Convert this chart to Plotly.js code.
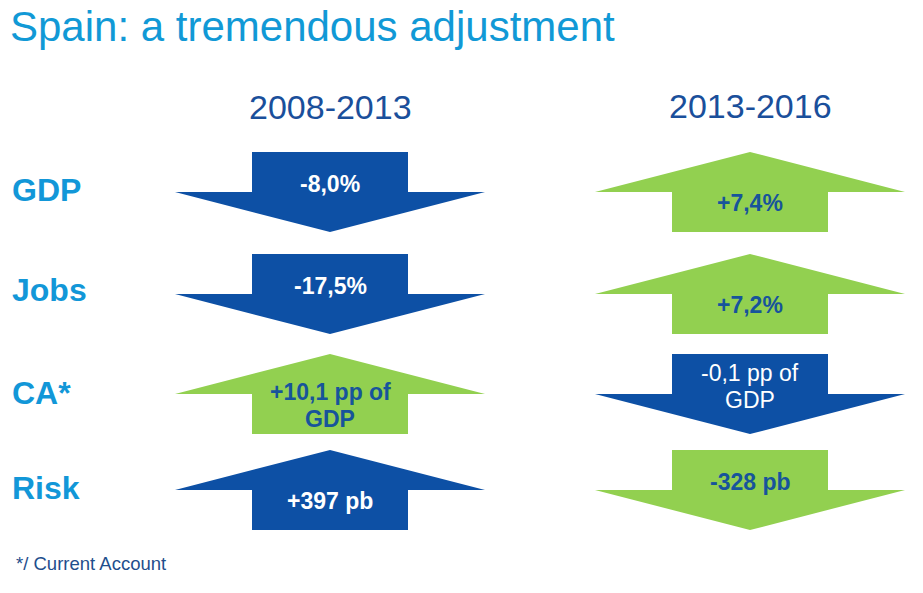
<!DOCTYPE html>
<html><head><meta charset="utf-8">
<script src="https://cdn.plot.ly/plotly-3.0.1.min.js"></script>
<style>html,body{margin:0;padding:0;background:#fff}#chart{width:923px;height:593px}</style>
</head><body><div id="chart"></div>
<script>
// ---- data ----
const chartTitle = "Spain: a tremendous adjustment";
const periods = ["2008-2013", "2013-2016"];
const indicators = ["GDP", "Jobs", "CA*", "Risk"];
const changes2008 = ["-8,0%", "-17,5%", "+10,1 pp of<br>GDP", "+397 pb"];
const changes2013 = ["+7,4%", "+7,2%", "-0,1 pp of<br>GDP", "-328 pb"];
const direction2008 = [-1, -1, 1, 1];   // +1 up, -1 down
const direction2013 = [1, 1, -1, -1];
const favourable2008 = [false, false, true, false];
const favourable2013 = [true, true, false, true];
const footnote = "*/ Current Account";

// ---- style / layout ----
const BLUE = "#0d50a5", GREEN = "#92d050";
const TEXT_ON_GREEN = "#17549b", TEXT_ON_BLUE = "#ffffff";
const FONT = "Liberation Sans, Arial, sans-serif";
const colX = [330, 750];
const headerY = [107, 106];
const rowY = [192, 294, 394, 490];
const labelY = [190, 290, 393, 488];
const SHAFT = 78, HEAD = 155, HALF = 40;
const boldLabels = [[true, true, true, true], [true, true, false, true]];

const directions = [direction2008, direction2013];
const changes = [changes2008, changes2013];
const favourable = [favourable2008, favourable2013];

function arrow(cx, cy, dir) {
  const e = dir * HALF;            // shaft end goes opposite to tip (screen y grows down)
  const xs = [cx - SHAFT, cx + SHAFT, cx + SHAFT, cx + HEAD, cx, cx - HEAD, cx - SHAFT, cx - SHAFT];
  const ys = [cy + e, cy + e, cy, cy, cy - e, cy, cy, cy + e];
  return {xs, ys};
}

const traces = [];
const annotations = [];
for (let c = 0; c < periods.length; c++) {
  annotations.push({x: colX[c], y: headerY[c], text: periods[c], showarrow: false,
    xanchor: "center", yanchor: "middle", font: {family: FONT, size: 34, color: "#1a4f9b"}});
  for (let r = 0; r < indicators.length; r++) {
    const dir = directions[c][r];
    const a = arrow(colX[c], rowY[r], dir);
    const col = favourable[c][r] ? GREEN : BLUE;
    traces.push({type: "scatter", mode: "lines", x: a.xs, y: a.ys, fill: "toself",
      fillcolor: col, line: {width: 0, color: col}, hoverinfo: "skip", showlegend: false});
    const lines = changes[c][r].split("<br>");
    const n = lines.length;
    const baseY = rowY[r] + (dir < 0 ? -8 : 11);
    lines.forEach((ln, i) => {
      const txt = boldLabels[c][r] ? "<b>" + ln + "</b>" : ln;
      annotations.push({x: colX[c], y: baseY + (i - (n - 1) / 2) * 27, text: txt, showarrow: false,
        xanchor: "center", yanchor: "middle",
        font: {family: FONT, size: 23, color: favourable[c][r] ? TEXT_ON_GREEN : TEXT_ON_BLUE}});
    });
  }
}
for (let r = 0; r < indicators.length; r++) {
  annotations.push({x: 10, y: labelY[r], text: "<b>" + indicators[r] + "</b>", showarrow: false,
    xanchor: "left", yanchor: "middle", font: {family: FONT, size: 32, color: "#1297d8"}});
}
annotations.push({x: 14, y: 563, text: footnote, showarrow: false, xanchor: "left", yanchor: "middle",
  font: {family: FONT, size: 18.5, color: "#1f4e8c"}});

const layout = {
  width: 923, height: 593,
  margin: {l: 0, r: 0, t: 0, b: 0},
  paper_bgcolor: "#ffffff", plot_bgcolor: "#ffffff",
  title: {text: chartTitle, x: 10 / 923, xanchor: "left", xref: "container",
    y: 1 - 26 / 593, yanchor: "middle", yref: "container",
    font: {family: FONT, size: 42, color: "#1199d6"}},
  xaxis: {range: [0, 923], visible: false, fixedrange: true},
  yaxis: {range: [593, 0], visible: false, fixedrange: true},
  annotations: annotations
};
Plotly.newPlot("chart", traces, layout, {displayModeBar: false, staticPlot: true});
</script>
</body></html>
